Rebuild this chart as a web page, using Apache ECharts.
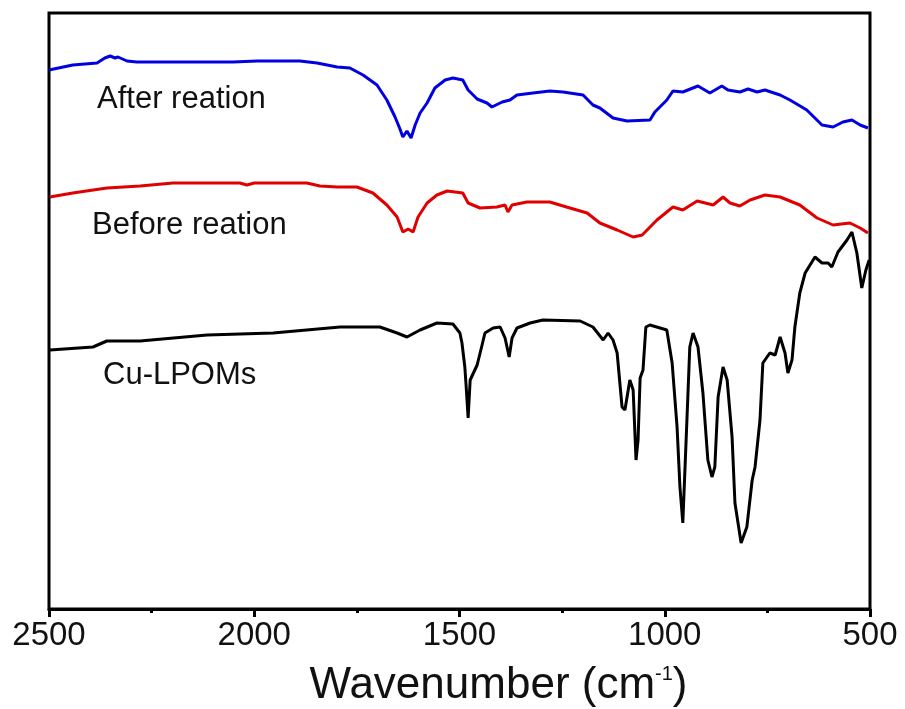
<!DOCTYPE html>
<html><head><meta charset="utf-8">
<script src="https://cdn.jsdelivr.net/npm/echarts@6/dist/echarts.min.js"></script>
<style>html,body{margin:0;padding:0;background:#fff}#c{width:905px;height:709px}</style>
</head><body><div id="c"></div>
<script>
// Wavenumbers (cm-1) and transmittance (arbitrary, offset)
const afterWn = [2500,2442,2383,2364,2351,2339,2332,2310,2286,2052,1993,1889,1847,1798,1767,1735,1701,1677,1657,1645,1638,1628,1618,1608,1596,1579,1560,1535,1516,1492,1479,1457,1433,1421,1396,1377,1360,1321,1280,1248,1199,1175,1158,1126,1092,1036,1024,995,980,956,919,890,861,846,817,797,775,756,719,695,654,617,590,566,544,524,505];
const afterVal = [539,544,546,551,553,551,552,548,547,547,548,548,546,542,541,534,524,509,492,480,472,478,471,484,496,506,521,529,531,529,519,510,506,502,507,509,514,516,518,517,514,504,501,491,488,489,497,509,518,517,523,516,523,519,517,520,517,519,514,509,499,484,482,487,489,484,481];

const beforeWn = [2498,2442,2359,2278,2198,2035,2018,2000,1872,1840,1798,1750,1711,1677,1652,1638,1625,1613,1601,1579,1555,1530,1492,1479,1450,1409,1389,1382,1372,1336,1280,1231,1189,1158,1116,1077,1055,1019,980,956,921,882,858,841,817,792,756,719,671,629,590,549,524,505];
const beforeVal = [412,416,421,423,426,426,424,426,426,423,422,422,416,404,392,377,380,377,392,406,414,418,416,406,401,402,404,397,404,407,407,401,396,386,379,372,374,389,402,399,408,404,412,406,403,409,414,412,404,391,384,386,381,376];

const cuWn = [2498,2393,2359,2278,2115,1954,1791,1694,1652,1628,1596,1555,1516,1499,1494,1487,1484,1479,1474,1457,1445,1438,1418,1401,1389,1379,1372,1360,1328,1297,1206,1175,1150,1138,1126,1116,1104,1097,1085,1077,1070,1065,1060,1053,1046,1036,995,982,970,963,956,946,939,931,919,907,895,885,878,870,858,848,836,829,814,800,787,780,768,761,744,731,719,707,700,690,683,671,658,634,617,602,593,578,556,544,532,520,510,502];
const cuVal = [259,262,268,268,274,276,282,282,276,272,279,286,285,276,266,242,224,191,229,244,264,276,281,282,271,252,271,281,286,289,288,282,269,276,269,256,202,199,229,219,149,169,231,239,282,284,279,246,182,122,86,189,262,276,262,216,149,132,142,212,242,229,172,106,66,82,129,142,189,246,256,254,272,256,236,249,282,316,336,352,346,346,342,357,369,377,356,321,339,349];

const xTicks = [2500, 2000, 1500, 1000, 500];
const seriesNames = ['After reation', 'Before reation', 'Cu-LPOMs'];

function pairs(w, v) { return w.map((x, i) => [x, v[i]]); }

const chart = echarts.init(document.getElementById('c'), null, {renderer: 'canvas'});
const FONT = "'Liberation Sans', Arial, sans-serif";
chart.setOption({
  animation: false,
  backgroundColor: '#fff',
  grid: {left: 49, right: 35, top: 13, bottom: 100, show: true, borderColor: '#000', borderWidth: 3,
    containLabel: false, outerBoundsMode: 'none'},
  xAxis: {
    type: 'value', min: 500, max: 2500, interval: 500, inverse: true,
    name: '{a|Wavenumber (cm}{s|-1}{a|)}', nameLocation: 'middle', nameGap: 55,
    nameTextStyle: {padding: [0, 0, 0, 78], rich: {
      a: {fontSize: 44, fontFamily: FONT, color: '#111'},
      s: {fontSize: 20, fontFamily: FONT, color: '#111', verticalAlign: 'top', padding: [0, 0, 22, 0]}
    }},
    axisLine: {show: true, lineStyle: {color: '#000', width: 3}},
    axisTick: {show: true, inside: false, length: 8, lineStyle: {color: '#000', width: 3}},
    minorTick: {show: true, splitNumber: 2, length: 4, lineStyle: {color: '#000', width: 3}},
    splitLine: {show: false},
    axisLabel: {fontSize: 33, fontFamily: FONT, color: '#111', margin: 10,
      formatter: v => xTicks.includes(v) ? String(v) : ''}
  },
  yAxis: {type: 'value', min: 0, max: 596, show: false},
  graphic: [
    {type: 'text', left: 97, top: 84, style: {text: seriesNames[0], font: '31px ' + FONT, fill: '#111'}},
    {type: 'text', left: 92, top: 210, style: {text: seriesNames[1], font: '31px ' + FONT, fill: '#111'}},
    {type: 'text', left: 103, top: 360, style: {text: seriesNames[2], font: '31px ' + FONT, fill: '#111'}}
  ],
  series: [
    {name: seriesNames[0], type: 'line', showSymbol: false, data: pairs(afterWn, afterVal), lineStyle: {color: '#0000e0', width: 3}, itemStyle: {color: '#0000e0'}},
    {name: seriesNames[1], type: 'line', showSymbol: false, data: pairs(beforeWn, beforeVal), lineStyle: {color: '#e00000', width: 3}, itemStyle: {color: '#e00000'}},
    {name: seriesNames[2], type: 'line', showSymbol: false, data: pairs(cuWn, cuVal), lineStyle: {color: '#000', width: 3}, itemStyle: {color: '#000'}}
  ]
});
</script></body></html>
